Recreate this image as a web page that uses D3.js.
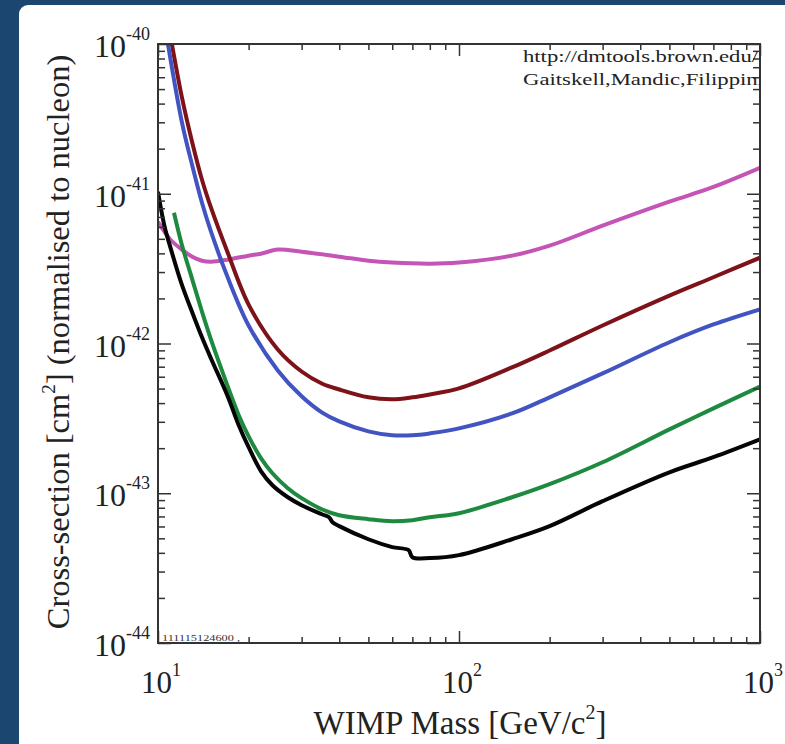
<!DOCTYPE html>
<html>
<head>
<meta charset="utf-8">
<script src="https://cdn.jsdelivr.net/npm/d3@7"></script>
<style>
  html, body { margin: 0; padding: 0; background: #1a4670; }
  svg { display: block; }
</style>
</head>
<body>
<svg id="chart" width="785" height="744"></svg>
<script>
// WIMP-nucleon spin-independent exclusion limits (cross-section vs mass)

// Mass samples [GeV/c^2] and cross-sections [cm^2] for each limit curve
const redMass  = [11, 12, 13, 14, 15, 17, 20, 25, 30, 35, 40, 50, 60, 70, 80, 100, 150, 200, 300, 500, 700, 1000];
const redSigma = [1.13e-40, 4.43e-41, 2.19e-41, 1.24e-41, 8.07e-42, 4.10e-42, 1.82e-42, 9.12e-43, 6.50e-43, 5.41e-43, 4.93e-43, 4.37e-43, 4.24e-43, 4.37e-43, 4.57e-43, 5.01e-43, 6.92e-43, 8.98e-43, 1.32e-42, 2.09e-42, 2.77e-42, 3.74e-42];

const blueMass  = [10.6, 12, 13, 14, 15, 17, 20, 25, 30, 35, 40, 50, 60, 70, 80, 100, 150, 200, 300, 500, 700, 1000];
const blueSigma = [1.24e-40, 3.02e-41, 1.54e-41, 8.71e-42, 5.58e-42, 2.80e-42, 1.32e-42, 6.61e-43, 4.44e-43, 3.47e-43, 3.02e-43, 2.59e-43, 2.44e-43, 2.44e-43, 2.51e-43, 2.71e-43, 3.41e-43, 4.37e-43, 6.31e-43, 1.02e-42, 1.34e-42, 1.69e-42];

const greenMass  = [11.3, 12, 13, 14, 15, 17, 18.5, 20, 22, 24, 27, 30, 35, 40, 50, 60, 70, 80, 100, 150, 200, 300, 500, 700, 1000];
const greenSigma = [7.46e-42, 4.57e-42, 2.67e-42, 1.63e-42, 1.06e-42, 5.25e-43, 3.36e-43, 2.40e-43, 1.71e-43, 1.36e-43, 1.08e-43, 9.27e-44, 7.82e-44, 7.13e-44, 6.71e-44, 6.50e-44, 6.61e-44, 6.92e-44, 7.36e-44, 9.40e-44, 1.15e-43, 1.61e-43, 2.67e-43, 3.69e-43, 5.16e-43];

const blackMass  = [10, 10.5, 11, 12, 13, 14, 15, 17, 18.5, 20, 22, 24, 27, 30, 35, 37, 38, 40, 50, 60, 68, 70, 80, 100, 150, 200, 300, 500, 700, 1000];
const blackSigma = [1.03e-41, 6.12e-42, 4.37e-42, 2.47e-42, 1.61e-42, 1.10e-42, 7.94e-43, 4.50e-43, 2.88e-43, 2.03e-43, 1.40e-43, 1.13e-43, 9.40e-44, 8.32e-44, 7.24e-44, 6.92e-44, 6.41e-44, 6.03e-44, 4.93e-44, 4.37e-44, 4.17e-44, 3.74e-44, 3.69e-44, 3.86e-44, 4.93e-44, 6.03e-44, 8.85e-44, 1.38e-43, 1.74e-43, 2.29e-43];

const pinkMass  = [10, 10.5, 11, 12, 13, 14, 15, 17, 20, 22, 25, 30, 40, 50, 60, 80, 100, 150, 200, 300, 500, 700, 1000];
const pinkSigma = [6.50e-42, 5.58e-42, 4.93e-42, 4.24e-42, 3.80e-42, 3.57e-42, 3.52e-42, 3.63e-42, 3.86e-42, 3.98e-42, 4.24e-42, 4.10e-42, 3.80e-42, 3.57e-42, 3.47e-42, 3.41e-42, 3.47e-42, 3.86e-42, 4.50e-42, 6.12e-42, 8.85e-42, 1.11e-41, 1.49e-41];

// Axis decades
const xMajor = [10, 100, 1000];
const xExp   = ["1", "2", "3"];
const yMajor = [1e-40, 1e-41, 1e-42, 1e-43, 1e-44];
const yExp   = ["-40", "-41", "-42", "-43", "-44"];

const series = [
  { mass: pinkMass,  sigma: pinkSigma,  color: "#c455b6" },
  { mass: redMass,   sigma: redSigma,   color: "#7e1219" },
  { mass: blueMass,  sigma: blueSigma,  color: "#4154c2" },
  { mass: greenMass, sigma: greenSigma, color: "#1d8a3f" },
  { mass: blackMass, sigma: blackSigma, color: "#050505" }
];

const svg = d3.select("#chart");
const serif = "'Liberation Serif', 'Times New Roman', serif";

// White card behind the plot
svg.append("rect")
  .attr("x", 19).attr("y", 5)
  .attr("width", 820).attr("height", 800)
  .attr("rx", 9).attr("fill", "#ffffff");

const plot = { left: 158, right: 760, top: 44, bottom: 643 };

const x = d3.scaleLog().domain([10, 1000]).range([plot.left, plot.right]);
const y = d3.scaleLog().domain([1e-44, 1e-40]).range([plot.bottom, plot.top]);

svg.append("clipPath").attr("id", "plotClip")
  .append("rect")
  .attr("x", plot.left).attr("y", plot.top)
  .attr("width", plot.right - plot.left).attr("height", plot.bottom - plot.top);

// Limit curves
const line = d3.line()
  .x(d => x(d[0]))
  .y(d => y(d[1]))
  .curve(d3.curveCatmullRom.alpha(0.5));

const curves = svg.append("g").attr("clip-path", "url(#plotClip)");
series.forEach(s => {
  curves.append("path")
    .datum(s.mass.map((m, i) => [m, s.sigma[i]]))
    .attr("fill", "none")
    .attr("stroke", s.color)
    .attr("stroke-width", 4)
    .attr("stroke-linejoin", "round")
    .attr("d", line);
});

// Tick marks (pointing inward on all four sides)
const xMinor = x.ticks().filter(v => !xMajor.includes(v));
const yMinor = y.ticks().filter(v => !yMajor.some(m => Math.abs(m - v) / v < 1e-6));

function tickGroup(axisFn, scale, values, size, transform) {
  const g = svg.append("g")
    .attr("transform", transform)
    .call(axisFn(scale).tickValues(values).tickSize(size).tickFormat(""));
  g.select(".domain").remove();
  g.selectAll(".tick line").attr("stroke", "#333").attr("stroke-width", 1.5);
  return g;
}
tickGroup(d3.axisBottom, x, xMinor, -6, `translate(0,${plot.bottom})`);
tickGroup(d3.axisBottom, x, xMajor, -12, `translate(0,${plot.bottom})`);
tickGroup(d3.axisTop, x, xMinor, -6, `translate(0,${plot.top})`);
tickGroup(d3.axisTop, x, xMajor, -12, `translate(0,${plot.top})`);
tickGroup(d3.axisLeft, y, yMinor, -7, `translate(${plot.left},0)`);
tickGroup(d3.axisLeft, y, yMajor, -13, `translate(${plot.left},0)`);
tickGroup(d3.axisRight, y, yMinor, -7, `translate(${plot.right},0)`);
tickGroup(d3.axisRight, y, yMajor, -13, `translate(${plot.right},0)`);

// Frame
svg.append("rect")
  .attr("x", plot.left).attr("y", plot.top)
  .attr("width", plot.right - plot.left).attr("height", plot.bottom - plot.top)
  .attr("fill", "none").attr("stroke", "#333").attr("stroke-width", 2);

// Tick labels as powers of ten
function powerLabel(sel, exp) {
  sel.append("tspan").text("10");
  sel.append("tspan").attr("font-size", 18).attr("dy", -17).text(exp);
}

yMajor.forEach((v, i) => {
  svg.append("text")
    .attr("x", 150).attr("y", y(v) + 13)
    .attr("text-anchor", "end")
    .attr("font-family", serif).attr("font-size", 32).attr("fill", "#222")
    .call(powerLabel, yExp[i]);
});

xMajor.forEach((v, i) => {
  svg.append("text")
    .attr("x", x(v) + 3).attr("y", 693)
    .attr("text-anchor", "middle")
    .attr("font-family", serif).attr("font-size", 31).attr("fill", "#222")
    .call(powerLabel, xExp[i]);
});

// Axis titles
const xTitle = svg.append("text")
  .attr("x", 460).attr("y", 734)
  .attr("text-anchor", "middle")
  .attr("font-family", serif).attr("font-size", 33).attr("fill", "#222");
xTitle.append("tspan").text("WIMP Mass [GeV/c");
xTitle.append("tspan").attr("font-size", 20).attr("dy", -15).text("2");
xTitle.append("tspan").attr("dy", 15).text("]");

const yTitle = svg.append("text")
  .attr("transform", "translate(69,342) rotate(-90)")
  .attr("text-anchor", "middle")
  .attr("font-family", serif).attr("font-size", 32.5).attr("fill", "#222");
yTitle.append("tspan").text("Cross-section [cm");
yTitle.append("tspan").attr("font-size", 19).attr("dy", -14).text("2");
yTitle.append("tspan").attr("dy", 14).text("] (normalised to nucleon)");

// Credit lines and timestamp inside the frame
const credit = svg.append("g").attr("clip-path", "url(#plotClip)");
credit.append("text")
  .attr("x", 523).attr("y", 62)
  .attr("font-family", serif).attr("font-size", 17).attr("fill", "#222")
  .attr("textLength", 235).attr("lengthAdjust", "spacingAndGlyphs")
  .text("http://dmtools.brown.edu/");
credit.append("text")
  .attr("x", 523).attr("y", 85)
  .attr("font-family", serif).attr("font-size", 17).attr("fill", "#222")
  .attr("textLength", 241).attr("lengthAdjust", "spacingAndGlyphs")
  .text("Gaitskell,Mandic,Filippini");

svg.append("text")
  .attr("x", 162).attr("y", 641)
  .attr("font-family", serif).attr("font-size", 9).attr("fill", "#333")
  .attr("textLength", 78).attr("lengthAdjust", "spacingAndGlyphs")
  .text("111115124600 ,");
</script>
</body>
</html>
